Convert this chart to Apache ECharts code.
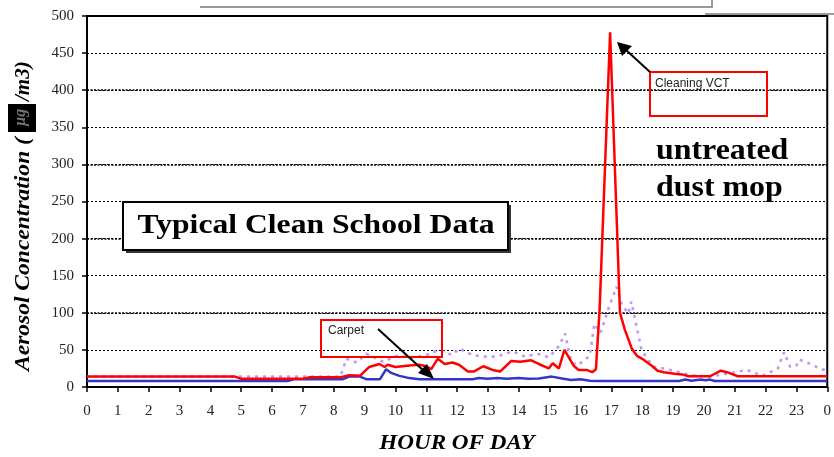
<!DOCTYPE html>
<html>
<head>
<meta charset="utf-8">
<script src="https://cdn.jsdelivr.net/npm/echarts@6/dist/echarts.min.js"></script>
<style>
html,body{margin:0;padding:0;background:#fff;}
#c{width:834px;height:457px;}
</style>
</head>
<body>
<div id="c"></div>
<script>
// ---- data (hour of day, aerosol concentration) ----
const hourLabels = ['0','1','2','3','4','5','6','7','8','9','10','11','12','13','14','15','16','17','18','19','20','21','22','23','0'];
const yTicks = [0,50,100,150,200,250,300,350,400,450,500];

const redHours  = [0,4.8,5.0,7.0,7.2,8.2,8.5,8.85,9.15,9.48,9.65,9.75,10.0,10.45,10.77,11.0,11.16,11.37,11.6,11.85,12.06,12.35,12.55,12.85,13.15,13.4,13.75,14.05,14.4,14.65,14.97,15.1,15.3,15.48,15.77,15.94,16.2,16.38,16.5,16.62,16.96,17.28,17.44,17.66,17.83,18.0,18.3,18.5,18.7,19.05,19.3,19.5,20.2,20.55,20.75,21.1,24];
const redValues = [14,14,11,11,13,13,16,15,27,31,27,30,27,29,30,28,24,38,31,33,30,21,21,28,23,21,35,34,36,31,25,32,25,50,29,23,23,20,24,105,478,100,77,52,42,38,29,22,20,18,17,14.5,14.5,22,20,14.5,14.5];

const blueHours  = [0,6.5,6.7,8.3,8.5,8.85,9.05,9.5,9.7,9.86,10.13,10.45,10.77,12.5,12.7,13.0,13.3,13.6,14.0,14.3,14.65,15.07,15.4,15.7,16.0,16.3,16.5,19.2,19.4,19.6,19.9,20.05,20.2,20.35,24];
const blueValues = [8,8,10.5,10.5,14,14,10.5,10.5,24,19,15,12,10.5,10.5,12,11,12,11,12,11,11.5,14,11.5,9.5,10.5,8.5,8,8,10,8.5,10,9,10,8,8];

const purpleHours  = [0,8.2,8.3,8.4,8.75,9.05,9.6,10.1,10.45,11.0,11.4,11.85,12.06,12.5,12.9,13.3,13.8,14.2,14.6,14.98,15.3,15.5,15.7,15.9,16.3,16.45,16.65,16.9,17.17,17.33,17.55,17.65,17.82,17.98,18.2,18.4,18.7,18.9,19.6,20.2,20.9,21.4,21.9,22.4,22.6,22.8,23.0,23.1,23.4,23.8,24];
const purpleValues = [14,14,23,38,33,45,34,43,39,43,50,43,52,43,41,41,48,41,45,40,55,72,34,29,42,85,73,105,135,112,99,115,81,50,36,27,25,23,16,14,19,23,15,25,47,27,29,37,32,24,22];

const pairs = (h, v) => h.map((x, i) => [x, v[i]]);

const chart = echarts.init(document.getElementById('c'), null, {renderer: 'canvas'});
const serif = '"Liberation Serif","Times New Roman",serif';
const sans = '"Liberation Sans",Arial,sans-serif';

const option = {
  animation: false,
  backgroundColor: '#fff',
  grid: {show: true, borderColor: '#000', borderWidth: 2, backgroundColor: 'transparent',
    left: 87, right: 6, top: 16, bottom: 70},
  xAxis: {
    type: 'value', min: 0, max: 24, interval: 1,
    axisLine: {show: true, lineStyle: {color: '#000', width: 2}},
    axisTick: {show: true, length: 5, lineStyle: {color: '#000', width: 1.5}},
    axisLabel: {color: '#222', fontFamily: serif, fontSize: 15, margin: 17,
      formatter: v => hourLabels[Math.round(v)]},
    splitLine: {show: false}
  },
  yAxis: [{
    type: 'value', min: 0, max: 500, interval: 50,
    axisLine: {show: true, lineStyle: {color: '#000', width: 2}},
    axisTick: {show: true, length: 5, lineStyle: {color: '#000', width: 1.5}},
    axisLabel: {color: '#222', fontFamily: serif, fontSize: 15, margin: 13,
      formatter: v => yTicks.includes(v) ? String(v) : ''},
    splitLine: {show: true, lineStyle: {color: '#000', width: 1, type: [2, 2]}}
  }, {
    type: 'value', min: 0, max: 500, interval: 100, position: 'left',
    axisLine: {show: false}, axisTick: {show: false}, axisLabel: {show: false},
    splitLine: {show: true, lineStyle: {color: '#000', width: 1.7, type: [2, 1.5]}}
  }],
  series: [
    {type: 'line', name: 'purple', data: pairs(purpleHours, purpleValues), symbol: 'none', z: 2,
      lineStyle: {color: '#C296F5', width: 2.6, type: [3, 5]}},
    {type: 'line', name: 'blue', data: pairs(blueHours, blueValues), symbol: 'none', z: 3,
      lineStyle: {color: '#3535C8', width: 2.5}},
    {type: 'line', name: 'red', data: pairs(redHours, redValues), symbol: 'none', z: 4,
      lineStyle: {color: '#FF0000', width: 2.5}}
  ],
  graphic: [
    // grey frame artefacts at top
    {type: 'line', shape: {x1: 200, y1: 7, x2: 712, y2: 7}, style: {stroke: '#9a9a9a', lineWidth: 2}, z: 10},
    {type: 'line', shape: {x1: 712, y1: 0, x2: 712, y2: 8}, style: {stroke: '#9a9a9a', lineWidth: 2}, z: 10},
    {type: 'line', shape: {x1: 705, y1: 14, x2: 834, y2: 14}, style: {stroke: '#9a9a9a', lineWidth: 2}, z: 10},
    // y axis title
    {type: 'text', x: 34, y: 371, rotation: Math.PI / 2, scaleX: 1.12, z: 10,
      style: {text: 'Aerosol Concentration (', font: 'italic bold 21px ' + serif, fill: '#000', textAlign: 'left', textVerticalAlign: 'bottom'}},
    {type: 'rect', shape: {x: 8, y: 104, width: 28, height: 28}, style: {fill: '#000'}, z: 10},
    {type: 'text', x: 29, y: 126, rotation: Math.PI / 2, z: 11,
      style: {text: 'µg', font: 'italic bold 16px ' + serif, fill: '#777', textAlign: 'left', textVerticalAlign: 'bottom'}},
    {type: 'text', x: 34, y: 101, rotation: Math.PI / 2, z: 10,
      style: {text: '/m3)', font: 'italic bold 21px ' + serif, fill: '#000', textAlign: 'left', textVerticalAlign: 'bottom'}},
    // x axis title
    {type: 'text', x: 457, y: 444, scaleX: 1.1, z: 10,
      style: {text: 'HOUR OF DAY', font: 'italic bold 21px ' + serif, fill: '#000', textAlign: 'center', textVerticalAlign: 'middle'}},
    // Typical Clean School Data box
    {type: 'rect', shape: {x: 126, y: 205, width: 385, height: 48}, style: {fill: '#333'}, z: 10},
    {type: 'rect', shape: {x: 123, y: 202, width: 385, height: 48}, style: {fill: '#fff', stroke: '#000', lineWidth: 2}, z: 11},
    {type: 'text', x: 316, y: 226, scaleX: 1.13, z: 12,
      style: {text: 'Typical Clean School Data', font: 'bold 28px ' + serif, fill: '#000', textAlign: 'center', textVerticalAlign: 'middle'}},
    // untreated dust mop
    {type: 'text', x: 656, y: 152, scaleX: 1.1, z: 12,
      style: {text: 'untreated', font: 'bold 29px ' + serif, fill: '#000', textAlign: 'left', textVerticalAlign: 'middle'}},
    {type: 'text', x: 656, y: 189, scaleX: 1.1, z: 12,
      style: {text: 'dust mop', font: 'bold 29px ' + serif, fill: '#000', textAlign: 'left', textVerticalAlign: 'middle'}},
    // Cleaning VCT box + arrow
    {type: 'rect', shape: {x: 650, y: 72, width: 117, height: 44}, style: {fill: 'transparent', stroke: '#FF0000', lineWidth: 2}, z: 12},
    {type: 'text', x: 655, y: 84, z: 12,
      style: {text: 'Cleaning VCT', font: '12px ' + sans, fill: '#222', textAlign: 'left', textVerticalAlign: 'middle'}},
    {type: 'line', shape: {x1: 650, y1: 72, x2: 626, y2: 50}, style: {stroke: '#000', lineWidth: 2}, z: 12},
    {type: 'polygon', shape: {points: [[617, 42], [632, 46], [622, 56]]}, style: {fill: '#000'}, z: 12},
    // Carpet box + arrow
    {type: 'rect', shape: {x: 321, y: 320, width: 121, height: 37}, style: {fill: 'transparent', stroke: '#FF0000', lineWidth: 2}, z: 12},
    {type: 'text', x: 328, y: 331, z: 12,
      style: {text: 'Carpet', font: '12px ' + sans, fill: '#222', textAlign: 'left', textVerticalAlign: 'middle'}},
    {type: 'line', shape: {x1: 378, y1: 329, x2: 424, y2: 371}, style: {stroke: '#000', lineWidth: 2}, z: 12},
    {type: 'polygon', shape: {points: [[434, 379], [418, 373], [427, 364]]}, style: {fill: '#000'}, z: 12}
  ]
};
chart.setOption(option);
</script>
</body>
</html>
